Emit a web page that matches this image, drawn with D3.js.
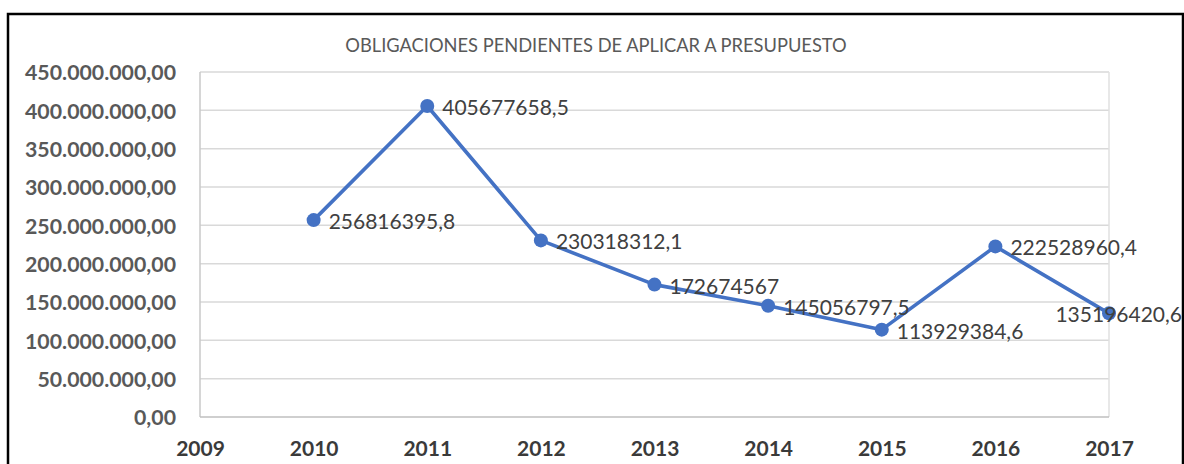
<!DOCTYPE html>
<html>
<head>
<meta charset="utf-8">
<script src="https://cdn.jsdelivr.net/npm/d3@7"></script>
<style>
  html, body { margin: 0; padding: 0; background: #fff; }
  svg { display: block; }
</style>
</head>
<body>
<svg id="chart" width="1184" height="464"></svg>
<script>
var title = "OBLIGACIONES PENDIENTES DE APLICAR A PRESUPUESTO";
var years = [2010, 2011, 2012, 2013, 2014, 2015, 2016, 2017];
var values = [256816395.8, 405677658.5, 230318312.1, 172674567, 145056797.5, 113929384.6, 222528960.4, 135196420.6];
var xTicks = [2009, 2010, 2011, 2012, 2013, 2014, 2015, 2016, 2017];
var yTicks = d3.range(0, 450000001, 50000000);

var es = d3.formatLocale({decimal: ",", thousands: ".", grouping: [3], currency: ["", ""]});
var fmtY = es.format(",.2f");
function fmtLabel(v) { return String(v).replace(".", ","); }

// note: "top" is a window global, so plot edges get their own names
var pLeft = 200, pRight = 1109, pTop = 72, pBottom = 417,
    font = "Lato, 'Noto Sans', sans-serif",
    blue = "#4472c4";

var svg = d3.select("#chart");

// outer chart frame (bottom edge is below the picture)
svg.append("rect")
  .attr("x", 8).attr("y", 14)
  .attr("width", 1175).attr("height", 480)
  .attr("fill", "#fff").attr("stroke", "#000").attr("stroke-width", 2.5);

var x = d3.scaleLinear().domain([2009, 2017]).range([pLeft, pRight]),
    y = d3.scaleLinear().domain([0, 450000000]).range([pBottom, pTop]);

// gridlines
svg.append("g")
  .selectAll("line")
  .data(yTicks.slice(1))
 .enter().append("line")
  .attr("x1", pLeft).attr("x2", pRight)
  .attr("y1", function(d) { return y(d); })
  .attr("y2", function(d) { return y(d); })
  .style("stroke", "#d9d9d9").style("stroke-width", 1.5);

// plot area sides
svg.append("line").attr("x1", pLeft).attr("x2", pLeft).attr("y1", pTop).attr("y2", pBottom)
  .style("stroke", "#c8c8c8").style("stroke-width", 1.5);
svg.append("line").attr("x1", pRight).attr("x2", pRight).attr("y1", pTop).attr("y2", pBottom)
  .style("stroke", "#e0e0e0").style("stroke-width", 1.5);
svg.append("line").attr("x1", pLeft).attr("x2", pRight).attr("y1", pBottom).attr("y2", pBottom)
  .style("stroke", "#bfbfbf").style("stroke-width", 1.5);

// y axis
var gy = svg.append("g")
  .attr("transform", "translate(" + (pLeft - 24) + ",0)")
  .call(d3.axisLeft(y).tickValues(yTicks).tickFormat(fmtY).tickSize(0).tickPadding(0));
gy.select(".domain").remove();
gy.selectAll("text")
  .attr("dy", "0.36em")
  .style("font-family", font).style("font-size", "21.3px").style("font-weight", "bold")
  .style("fill", "#595959");

// x axis
var gx = svg.append("g")
  .attr("transform", "translate(0," + pBottom + ")")
  .call(d3.axisBottom(x).tickValues(xTicks).tickFormat(d3.format("d")).tickSize(0).tickPadding(0));
gx.select(".domain").remove();
gx.selectAll("text")
  .attr("y", 39).attr("dy", 0)
  .style("font-family", font).style("font-size", "21px").style("font-weight", "bold")
  .style("fill", "#3a3a3a");

// title
svg.append("text")
  .attr("x", 596).attr("y", 52)
  .attr("text-anchor", "middle")
  .style("font-family", font).style("font-size", "18.3px")
  .style("fill", "#595959")
  .text(title);

var data = years.map(function(yr, i) { return {year: yr, v: values[i]}; });

svg.append("path")
  .datum(data)
  .attr("fill", "none")
  .attr("stroke", blue).attr("stroke-width", 3.6)
  .attr("stroke-linejoin", "round")
  .attr("d", d3.line().x(function(d) { return x(d.year); }).y(function(d) { return y(d.v); }));

svg.selectAll("circle.pt")
  .data(data)
 .enter().append("circle")
  .attr("class", "pt")
  .attr("cx", function(d) { return x(d.year); })
  .attr("cy", function(d) { return y(d.v); })
  .attr("r", 7)
  .attr("fill", blue);

// data labels, to the right; pulled back inside the frame if they would overflow
svg.selectAll("text.lbl")
  .data(data)
 .enter().append("text")
  .attr("class", "lbl")
  .attr("x", function(d) { return x(d.year) + 15; })
  .attr("y", function(d) { return y(d.v) + 1.5; })
  .attr("dy", "0.36em")
  .style("font-family", font).style("font-size", "21px")
  .style("fill", "#404040")
  .text(function(d) { return fmtLabel(d.v); })
  .each(function() {
    var t = d3.select(this), w = this.getComputedTextLength();
    if (+t.attr("x") + w > 1182) t.attr("x", 1182).attr("text-anchor", "end");
  });
</script>
</body>
</html>
